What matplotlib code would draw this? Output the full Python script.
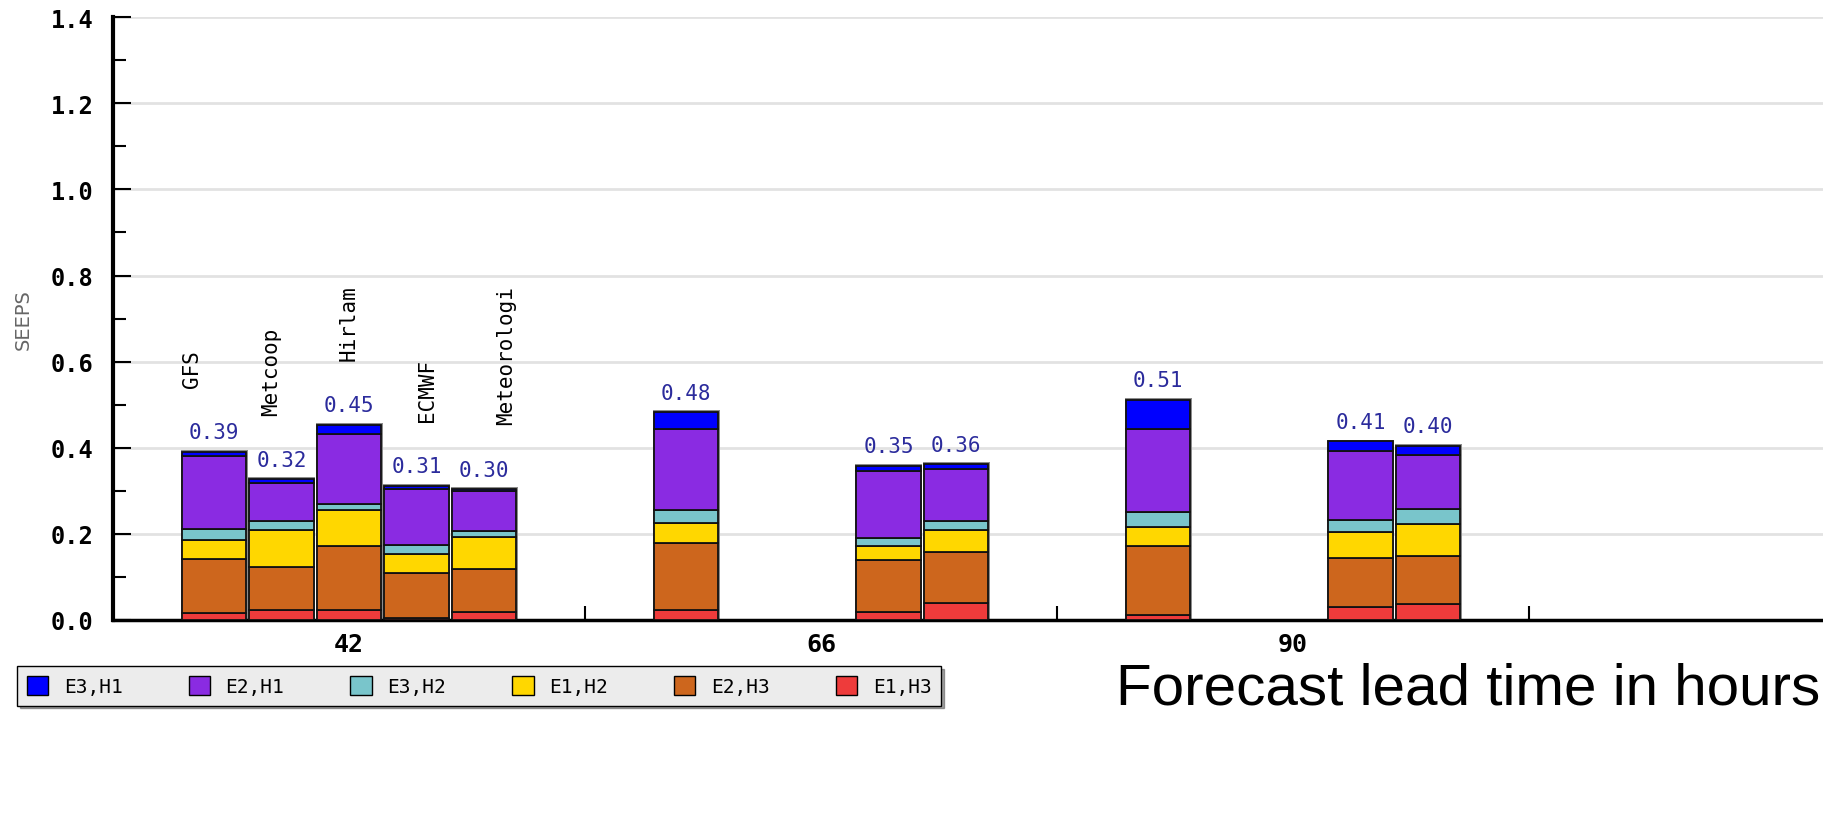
import numpy as np
import matplotlib.pyplot as plt
from matplotlib.patches import Patch

# lead times (groups) and models
lead_times = ['42', '66', '90']
models = ['GFS', 'Metcoop', 'Hirlam', 'ECMWF', 'Meteorologi']

# which bars exist: group index and model index
bar_group = [0, 0, 0, 0, 0, 1, 1, 1, 2, 2, 2]
bar_model = [0, 1, 2, 3, 4, 0, 3, 4, 0, 3, 4]

# segment heights, bottom to top
e1_h3 = [0.016, 0.024, 0.024, 0.004, 0.018, 0.022, 0.019, 0.039, 0.012, 0.031, 0.037]
e2_h3 = [0.126, 0.098, 0.148, 0.104, 0.100, 0.157, 0.120, 0.119, 0.160, 0.113, 0.111]
e1_h2 = [0.043, 0.088, 0.083, 0.045, 0.074, 0.045, 0.033, 0.052, 0.044, 0.061, 0.075]
e3_h2 = [0.026, 0.019, 0.015, 0.022, 0.015, 0.031, 0.018, 0.019, 0.034, 0.028, 0.035]
e2_h1 = [0.170, 0.088, 0.163, 0.130, 0.092, 0.188, 0.157, 0.121, 0.193, 0.159, 0.125]
e3_h1 = [0.010, 0.010, 0.020, 0.007, 0.005, 0.040, 0.011, 0.012, 0.068, 0.023, 0.022]

# score printed above each bar
score_labels = ['0.39', '0.32', '0.45', '0.31', '0.30', '0.48', '0.35', '0.36', '0.51', '0.41', '0.40']

segments = [
    (e1_h3, 'E1,H3', '#ee3b3b'),
    (e2_h3, 'E2,H3', '#cd661d'),
    (e1_h2, 'E1,H2', '#ffd700'),
    (e3_h2, 'E3,H2', '#79c5cb'),
    (e2_h1, 'E2,H1', '#8a2be2'),
    (e3_h1, 'E3,H1', '#0000ff'),
]

mono = 'DejaVu Sans Mono'

fig = plt.figure(figsize=(18.24, 8.29), dpi=100)
ax = fig.add_axes([0.062, 0.251, 0.938, 0.727])

step = 0.143
width = 0.136
x = np.array([g + 0.5 + (m - 2) * step for g, m in zip(bar_group, bar_model)])

totals = np.zeros(len(x))
for vals, _, _ in segments:
    totals += np.array(vals)

# gray outline behind each stack
ax.bar(x, totals + 0.004, width=width + 0.006, color='#8c8c8c', zorder=2)

bottom = np.zeros(len(x))
for vals, name, col in segments:
    ax.bar(x, vals, width=width, bottom=bottom, color=col, edgecolor='#111111',
           linewidth=1.3, zorder=3)
    bottom += np.array(vals)

for xi, top, lab in zip(x, totals, score_labels):
    ax.text(xi, top + 0.022, lab, ha='center', va='bottom', family=mono,
            fontsize=15, color='#2b2b9c')

# model names above first group
for xi, top, g, m in zip(x, totals, bar_group, bar_model):
    if g == 0:
        ax.text(0.5 + (m - 2) * 0.166, top + 0.15, models[m], rotation=90,
                ha='center', va='bottom', family=mono, fontsize=15, color='black')

ax.set_xlim(0, 3.625)
ax.set_ylim(0, 1.4)
ax.set_xticks([1, 2, 3])
ax.set_xticklabels([])
ax.set_xticks([0.5, 1.5, 2.5], minor=True)
ax.set_xticklabels(lead_times, minor=True, family=mono, fontweight='bold', fontsize=18)
ax.tick_params(axis='x', which='major', direction='in', length=10, width=1.5)
ax.tick_params(axis='x', which='minor', length=0, pad=9)

ax.set_yticks(np.arange(0, 1.41, 0.2))
ax.set_yticks(np.arange(0.1, 1.4, 0.2), minor=True)
ax.set_yticklabels(['%.1f' % v for v in np.arange(0, 1.41, 0.2)], family=mono,
                   fontweight='bold', fontsize=17)
ax.tick_params(axis='y', which='major', direction='in', length=13, width=1.5, pad=14)
ax.tick_params(axis='y', which='minor', direction='in', length=9, width=1.5)
ax.yaxis.grid(True, color='#e2e2e2', linewidth=2)
ax.set_axisbelow(True)

ax.spines['top'].set_visible(False)
ax.spines['right'].set_visible(False)
ax.spines['left'].set_linewidth(3)
ax.spines['bottom'].set_linewidth(2.5)

ax.set_ylabel('SEEPS', color='#666666', fontsize=14)
ax.yaxis.set_label_coords(-0.047, 0.5)

handles = [Patch(facecolor=col, edgecolor='black', label=name) for _, name, col in segments[::-1]]
leg = fig.legend(handles=handles, ncol=6, loc='lower left', bbox_to_anchor=(0.004, 0.136),
                 prop={'family': mono, 'size': 14}, frameon=True, fancybox=False,
                 shadow=True, handlelength=1.1, handleheight=1.1, columnspacing=3.4,
                 handletextpad=0.8, borderpad=0.5)
leg.get_frame().set_facecolor('#ececec')
leg.get_frame().set_edgecolor('black')
leg.get_frame().set_alpha(1)

fig.text(0.998, 0.168, 'Forecast lead time in hours', ha='right', va='center',
         family='Liberation Sans', fontsize=42)

fig.savefig('out.png', dpi=100)
